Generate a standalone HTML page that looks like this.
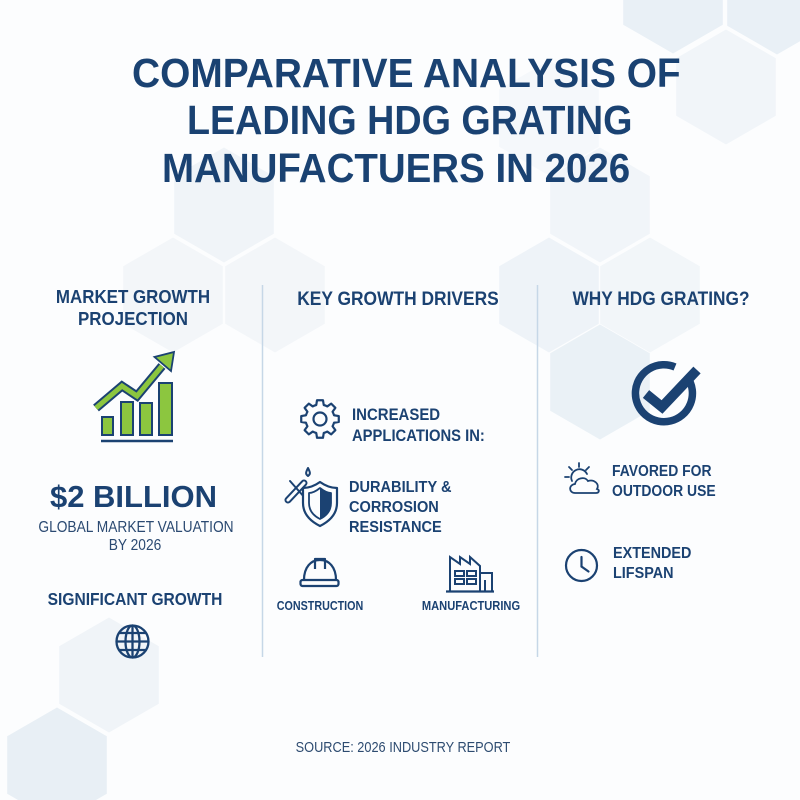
<!DOCTYPE html>
<html>
<head>
<meta charset="utf-8">
<style>
html,body{margin:0;padding:0;}
body{width:800px;height:800px;position:relative;overflow:hidden;background:#fcfdfe;font-family:"Liberation Sans",Arial,sans-serif;}
svg.bg{position:absolute;left:0;top:0;}
.t{position:absolute;white-space:nowrap;line-height:1;font-weight:700;color:#1b4272;}
.c{transform:translateX(-50%) scaleX(var(--k));}
.l{transform-origin:0 0;transform:scaleX(var(--k));}
.r{font-weight:400;color:#2b4a72;}
</style>
</head>
<body>
<svg class="bg" width="800" height="800" viewBox="0 0 800 800" xmlns="http://www.w3.org/2000/svg">
  <defs>
    <polygon id="hx" points="0,-57.5 49.8,-28.75 49.8,28.75 0,57.5 -49.8,28.75 -49.8,-28.75"/>
  </defs>
  <!-- hexagons -->
  <use href="#hx" transform="translate(673,-4)" fill="#e9f0f6"/>
  <use href="#hx" transform="translate(777,-3)" fill="#e9f0f6"/>
  <use href="#hx" transform="translate(726,87)" fill="#f1f5f9"/>
  <use href="#hx" transform="translate(549,118)" fill="#f5f8fb"/>
  <use href="#hx" transform="translate(600,205)" fill="#f1f5f9"/>
  <use href="#hx" transform="translate(549,295)" fill="#eef3f8"/>
  <use href="#hx" transform="translate(650,295)" fill="#f2f6f9"/>
  <use href="#hx" transform="translate(600,382)" fill="#eaf1f6"/>
  <use href="#hx" transform="translate(224,205)" fill="#f0f4f8"/>
  <use href="#hx" transform="translate(173,295)" fill="#f3f6f9"/>
  <use href="#hx" transform="translate(275,295)" fill="#f3f6f9"/>
  <use href="#hx" transform="translate(109,675)" fill="#f0f4f8"/>
  <use href="#hx" transform="translate(57,765)" fill="#e8eff5"/>

  <!-- dividers -->
  <line x1="262.5" y1="285" x2="262.5" y2="657" stroke="#c6d7e7" stroke-width="1.5"/>
  <line x1="537.5" y1="285" x2="537.5" y2="657" stroke="#c6d7e7" stroke-width="1.5"/>

  <!-- chart icon -->
  <g stroke="#1b4272" stroke-width="2" fill="#8cc63f">
    <rect x="102" y="417" width="11" height="18"/>
    <rect x="121" y="402" width="12" height="33"/>
    <rect x="140" y="403" width="12" height="32"/>
    <rect x="159" y="383" width="13" height="52"/>
  </g>
  <line x1="101" y1="441" x2="173" y2="441" stroke="#1b4272" stroke-width="2.5"/>
  <polyline points="96,408 122,386 137,396 162,366" fill="none" stroke="#1b4272" stroke-width="9" stroke-linejoin="miter"/>
  <polyline points="96,408 122,386 137,396 162,366" fill="none" stroke="#8cc63f" stroke-width="5" stroke-linejoin="miter"/>
  <polygon points="174,352 171,371 154.5,357" fill="#8cc63f" stroke="#1b4272" stroke-width="1.8" stroke-linejoin="miter"/>

  <!-- globe -->
  <g fill="none" stroke="#1b4272" stroke-width="2.3">
    <circle cx="132.5" cy="641.5" r="16"/>
    <ellipse cx="132.5" cy="641.5" rx="7" ry="16"/>
    <line x1="132.5" y1="625.5" x2="132.5" y2="657.5"/>
    <line x1="116.5" y1="641.5" x2="148.5" y2="641.5"/>
    <line x1="119" y1="633" x2="146" y2="633"/>
    <line x1="119" y1="650" x2="146" y2="650"/>
  </g>

  <!-- gear -->
  <g transform="translate(320,419)" fill="none" stroke="#1b4272" stroke-width="2.2" stroke-linejoin="round">
    <path d="M14,-3.75 L18.77,-2.97 L18.77,2.97 L14,3.75 A14.5,14.5 0 0 1 12.56,7.25 L15.37,11.17 L11.17,15.37 L7.25,12.56 A14.5,14.5 0 0 1 3.75,14 L2.97,18.77 L-2.97,18.77 L-3.75,14 A14.5,14.5 0 0 1 -7.25,12.56 L-11.17,15.37 L-15.37,11.17 L-12.56,7.25 A14.5,14.5 0 0 1 -14,3.75 L-18.77,2.97 L-18.77,-2.97 L-14,-3.75 A14.5,14.5 0 0 1 -12.56,-7.25 L-15.37,-11.17 L-11.17,-15.37 L-7.25,-12.56 A14.5,14.5 0 0 1 -3.75,-14 L-2.97,-18.77 L2.97,-18.77 L3.75,-14 A14.5,14.5 0 0 1 7.25,-12.56 L11.17,-15.37 L15.37,-11.17 L12.56,-7.25 A14.5,14.5 0 0 1 14,-3.75 Z"/>
    <circle cx="0" cy="0" r="6.5"/>
  </g>

  <!-- shield + tools -->
  <g fill="none" stroke="#1b4272" stroke-width="2" stroke-linejoin="round" stroke-linecap="round">
    <path d="M288,500 L304,483" stroke-width="7"/>
    <path d="M288,500 L304,483" stroke="#fcfdfe" stroke-width="3"/>
    <path d="M290,481 L305,498"/>
    <path d="M308,468 C306,472 305,474 308,476 C311,474 310,472 308,468 Z"/>
    <path d="M320,482 C327,487 332,488 337,488 L337,503 C337,514 330,521 320,526 C310,521 303,514 303,503 L303,488 C308,488 313,487 320,482 Z" fill="#fcfdfe" stroke-width="2.2"/>
    <path d="M320,488 C325,492 328,493 331,493 L331,503 C331,511 326,516 320,519 C314,516 309,511 309,503 L309,493 C312,493 315,492 320,488 Z" stroke-width="1.8"/>
    <path d="M320,488 C325,492 328,493 331,493 L331,503 C331,511 326,516 320,519 Z" fill="#1b4272" stroke="none"/>
  </g>

  <!-- helmet -->
  <g fill="none" stroke="#1b4272" stroke-width="2.2" stroke-linejoin="round">
    <path d="M304,580 C304,567 311,560 320,560 C329,560 336,567 336,580"/>
    <rect x="300.5" y="580" width="38" height="6" rx="2"/>
    <path d="M315,569 L315,559 L325,559 L325,569"/>
  </g>

  <!-- factory -->
  <g fill="none" stroke="#1b4272" stroke-width="2" stroke-linejoin="miter">
    <path d="M450,591 L450,557 L460,564 L460,557 L470,564 L470,557 L480,566 L480,591"/>
    <path d="M480,573 L492,573 L492,591"/>
    <rect x="455" y="571" width="9" height="5"/>
    <rect x="467" y="571" width="9" height="5"/>
    <rect x="455" y="579" width="9" height="5"/>
    <rect x="467" y="579" width="9" height="5"/>
    <line x1="485" y1="580" x2="485" y2="591"/>
    <line x1="446" y1="591.5" x2="494" y2="591.5" stroke-width="2.2"/>
  </g>

  <!-- check circle -->
  <path d="M688,378 A28.5,28.5 0 1 1 675,367" fill="none" stroke="#1b4272" stroke-width="7.5"/>
  <polyline points="646,394 662,407 697,370" fill="none" stroke="#1b4272" stroke-width="10" stroke-linejoin="miter"/>

  <!-- sun + cloud -->
  <g fill="none" stroke="#1b4272" stroke-width="1.8" stroke-linecap="round">
    <path d="M572,481 A8,8 0 0 1 587,474"/>
    <line x1="579" y1="463" x2="579" y2="467"/>
    <line x1="569" y1="467" x2="572" y2="470"/>
    <line x1="589" y1="467" x2="586" y2="470"/>
    <line x1="565" y1="477" x2="569" y2="477"/>
    <path d="M575,493 C569,493 568,485 575,484 C576,478 585,476 588,481 C594,479 600,484 597,489 C600,490 599,493 596,493 Z" fill="#fcfdfe"/>
  </g>

  <!-- clock -->
  <g fill="none" stroke="#1b4272" stroke-width="2.2" stroke-linecap="round">
    <circle cx="581.5" cy="565.5" r="15.5"/>
    <polyline points="581.5,557 581.5,566.5 588.5,571.5"/>
  </g>
</svg>

<!-- Title -->
<div class="t l" style="--k:0.96;left:132px;top:53px;font-size:40.5px;color:#1a4272;">COMPARATIVE ANALYSIS OF</div>
<div class="t l" style="--k:0.931;left:187px;top:99.7px;font-size:40.5px;color:#1a4272;">LEADING HDG GRATING</div>
<div class="t l" style="--k:0.95;left:162px;top:147.7px;font-size:40.5px;color:#1a4272;">MANUFACTUERS IN 2026</div>

<!-- Left column -->
<div class="t c" style="--k:0.94;left:133px;top:287.7px;font-size:18px;">MARKET GROWTH</div>
<div class="t c" style="--k:0.94;left:133px;top:309.7px;font-size:18px;">PROJECTION</div>
<div class="t c" style="--k:1.0;left:133.5px;top:481px;font-size:31px;">$2 BILLION</div>
<div class="t c r" style="--k:0.86;left:136px;top:519.9px;font-size:16px;">GLOBAL MARKET VALUATION</div>
<div class="t c r" style="--k:0.86;left:135px;top:537.9px;font-size:16px;">BY 2026</div>
<div class="t c" style="--k:0.89;left:135px;top:590.7px;font-size:17.5px;">SIGNIFICANT GROWTH</div>

<!-- Middle column -->
<div class="t c" style="--k:0.915;left:398px;top:289.5px;font-size:19px;">KEY GROWTH DRIVERS</div>
<div class="t l" style="--k:0.88;left:352px;top:405.8px;font-size:17px;">INCREASED</div>
<div class="t l" style="--k:0.87;left:352px;top:426.8px;font-size:17px;">APPLICATIONS IN:</div>
<div class="t l" style="--k:0.91;left:349px;top:479.9px;font-size:16px;">DURABILITY &amp;</div>
<div class="t l" style="--k:0.91;left:349px;top:499.9px;font-size:16px;">CORROSION</div>
<div class="t l" style="--k:0.91;left:349px;top:519.9px;font-size:16px;">RESISTANCE</div>
<div class="t c" style="--k:0.86;left:320px;top:600.4px;font-size:12.5px;">CONSTRUCTION</div>
<div class="t c" style="--k:0.89;left:471px;top:600.4px;font-size:12.5px;">MANUFACTURING</div>

<!-- Right column -->
<div class="t c" style="--k:0.91;left:661px;top:289.5px;font-size:19px;">WHY HDG GRATING?</div>
<div class="t l" style="--k:0.87;left:612px;top:463.9px;font-size:16px;">FAVORED FOR</div>
<div class="t l" style="--k:0.87;left:612px;top:483.9px;font-size:16px;">OUTDOOR USE</div>
<div class="t l" style="--k:0.9;left:613px;top:545.9px;font-size:16px;">EXTENDED</div>
<div class="t l" style="--k:0.9;left:613px;top:565.9px;font-size:16px;">LIFSPAN</div>

<!-- Source -->
<div class="t c r" style="--k:0.85;left:403px;top:740px;font-size:15px;color:#2d4b70;">SOURCE: 2026 INDUSTRY REPORT</div>
</body>
</html>
